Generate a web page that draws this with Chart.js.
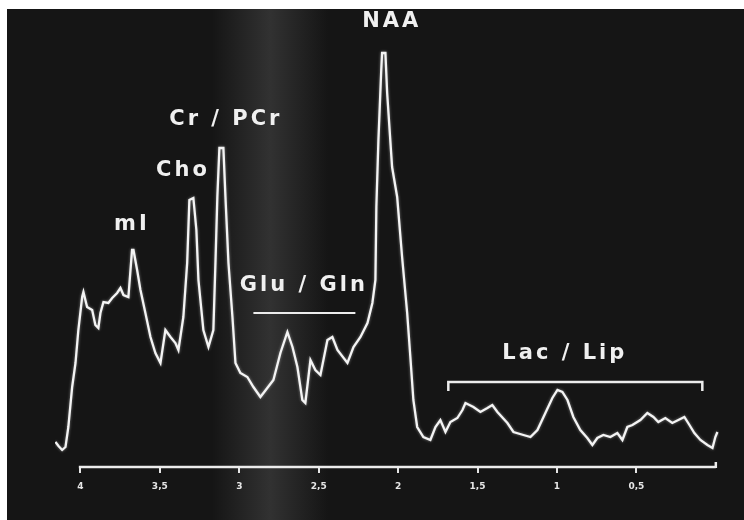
<!DOCTYPE html>
<html>
<head>
<meta charset="utf-8">
<title>MR spectrum</title>
<script src="https://cdn.jsdelivr.net/npm/chart.js@4.4.1/dist/chart.umd.min.js"></script>
<style>
    html, body { margin: 0; padding: 0; background: #ffffff; }
    canvas { display: block; }
</style>
</head>
<body>
<canvas id="spectrum" width="744" height="520"></canvas>
<script>
// chemical shift (ppm) and signal
const ppm = [
    4.157, 4.138, 4.115, 4.094, 4.076, 4.052, 4.031, 4.013, 3.989, 3.981,
    3.958, 3.926, 3.906, 3.887, 3.874, 3.855, 3.824, 3.800, 3.769, 3.748,
    3.729, 3.698, 3.675, 3.666, 3.643, 3.622, 3.591, 3.559, 3.528, 3.496,
    3.465, 3.433, 3.402, 3.383, 3.352, 3.328, 3.314, 3.289, 3.270, 3.257,
    3.226, 3.194, 3.163, 3.150, 3.138, 3.125, 3.100, 3.087, 3.068, 3.043,
    3.024, 2.993, 2.949, 2.911, 2.867, 2.785, 2.741, 2.697, 2.665, 2.634,
    2.603, 2.584, 2.552, 2.521, 2.489, 2.445, 2.414, 2.382, 2.319, 2.281,
    2.237, 2.193, 2.162, 2.143, 2.137, 2.124, 2.107, 2.101, 2.080, 2.069,
    2.038, 2.006, 1.975, 1.943, 1.923, 1.904, 1.880, 1.841, 1.797, 1.765,
    1.734, 1.702, 1.671, 1.627, 1.595, 1.576, 1.526, 1.482, 1.438, 1.407,
    1.375, 1.312, 1.274, 1.211, 1.167, 1.123, 1.073, 1.029, 0.997, 0.966,
    0.934, 0.897, 0.853, 0.809, 0.777, 0.746, 0.708, 0.664, 0.620, 0.588,
    0.557, 0.525, 0.475, 0.431, 0.393, 0.362, 0.318, 0.274, 0.236, 0.198,
    0.166, 0.135, 0.097, 0.053, 0.021, 0.003, -0.010
];
const intensity = [
    25, 21, 17, 20, 40, 80, 104, 137, 170, 175,
    160, 157, 142, 139, 154, 165, 164, 169, 174, 179,
    172, 170, 217, 217, 197, 177, 154, 130, 114, 104,
    137, 130, 124, 117, 150, 204, 267, 269, 237, 187,
    137, 120, 137, 204, 270, 319, 319, 270, 204, 150,
    104, 94, 90, 80, 70, 87, 114, 135, 120, 100,
    67, 64, 107, 97, 92, 127, 130, 117, 104, 120,
    130, 144, 164, 187, 260, 327, 394, 414, 414, 374,
    300, 270, 210, 154, 110, 67, 40, 30, 27, 40,
    47, 35, 45, 49, 57, 64, 60, 55, 59, 62,
    55, 44, 35, 32, 30, 37, 54, 69, 77, 75,
    67, 50, 37, 29, 22, 29, 32, 30, 34, 27,
    40, 42, 47, 54, 50, 45, 49, 44, 47, 50,
    42, 34, 27, 22, 19, 30, 35
];

const tickValues = [4, 3.5, 3, 2.5, 2, 1.5, 1, 0.5];
const tickLabels = ['4', '3,5', '3', '2,5', '2', '1,5', '1', '0,5'];
const axisSpan = [4.01, 0];

// metabolite labels, anchored at (ppm, level)
const peakNames = ['mI', 'Cho', 'Cr / PCr', 'Glu / Gln', 'NAA', 'Lac / Lip'];
const peakLabelPpm = [3.685, 3.364, 3.094, 2.603, 2.049, 0.960];
const peakLabelLevel = [242, 296, 347, 181, 445, 113];

// range brackets under the Glu/Gln and Lac/Lip labels
const glxRange = [2.911, 2.269];
const glxLevel = 154;
const lacRange = [1.684, 0.085];
const lacLevel = 85;

const backdrop = {
    id: 'backdrop',
    beforeDraw(chart) {
        const ctx = chart.ctx;
        ctx.save();
        ctx.fillStyle = '#ffffff';
        ctx.fillRect(0, 0, chart.width, chart.height);
        ctx.fillStyle = '#151515';
        ctx.fillRect(7, 9, chart.width - 7, chart.height - 9);
        // the lighter scan band behind Glu/Gln
        const band = ctx.createLinearGradient(212, 0, 328, 0);
        band.addColorStop(0, 'rgba(110,110,110,0)');
        band.addColorStop(0.5, 'rgba(110,110,110,0.32)');
        band.addColorStop(1, 'rgba(110,110,110,0)');
        ctx.fillStyle = band;
        ctx.fillRect(212, 9, 116, chart.height - 9);
        ctx.restore();
    },
    beforeDatasetDraw(chart) {
        chart.ctx.save();
        chart.ctx.shadowColor = 'rgba(255,255,255,0.45)';
        chart.ctx.shadowBlur = 3;
    },
    afterDatasetDraw(chart) {
        chart.ctx.restore();
    }
};

const annotations = {
    id: 'annotations',
    afterDatasetsDraw(chart) {
        const {ctx, chartArea} = chart;
        const x = chart.scales.x;
        const y = chart.scales.y;
        ctx.save();
        ctx.strokeStyle = '#ececec';
        ctx.lineCap = 'butt';

        // axis line with a small hook on its right end
        const axisY = chartArea.bottom;
        const right = x.getPixelForValue(axisSpan[1]);
        ctx.lineWidth = 2.5;
        ctx.beginPath();
        ctx.moveTo(x.getPixelForValue(axisSpan[0]), axisY);
        ctx.lineTo(right, axisY);
        ctx.moveTo(right, axisY + 1);
        ctx.lineTo(right, axisY - 5);
        ctx.stroke();

        // Glu/Gln underline
        ctx.lineWidth = 2;
        ctx.beginPath();
        ctx.moveTo(x.getPixelForValue(glxRange[0]), y.getPixelForValue(glxLevel));
        ctx.lineTo(x.getPixelForValue(glxRange[1]), y.getPixelForValue(glxLevel));
        ctx.stroke();

        // Lac/Lip bracket
        const ly = y.getPixelForValue(lacLevel);
        const lx0 = x.getPixelForValue(lacRange[0]);
        const lx1 = x.getPixelForValue(lacRange[1]);
        ctx.lineWidth = 2.5;
        ctx.beginPath();
        ctx.moveTo(lx0, ly + 9);
        ctx.lineTo(lx0, ly);
        ctx.lineTo(lx1, ly);
        ctx.lineTo(lx1, ly + 9);
        ctx.stroke();

        ctx.fillStyle = '#f0f0f0';
        ctx.font = 'bold 21px "DejaVu Sans", sans-serif';
        ctx.letterSpacing = '3px';
        ctx.textAlign = 'center';
        ctx.textBaseline = 'middle';
        peakNames.forEach((name, i) => {
            ctx.fillText(name, x.getPixelForValue(peakLabelPpm[i]) + 1.5, y.getPixelForValue(peakLabelLevel[i]));
        });
        ctx.restore();
    }
};

new Chart(document.getElementById('spectrum').getContext('2d'), {
    type: 'line',
    data: {
        datasets: [{
            data: ppm.map((v, i) => ({x: v, y: intensity[i]})),
            borderColor: '#f4f4f4',
            borderWidth: 2.3,
            pointRadius: 0,
            tension: 0,
            fill: false,
        }]
    },
    options: {
        responsive: false,
        animation: false,
        layout: { padding: { left: 55, right: 25, top: 17, bottom: 0 } },
        plugins: {
            legend: { display: false },
            tooltip: { enabled: false }
        },
        scales: {
            x: {
                type: 'linear',
                reverse: true,
                min: -0.02,
                max: 4.16,
                border: { display: false },
                grid: { drawOnChartArea: false, color: '#e6e6e6', lineWidth: 2, tickLength: 6 },
                afterBuildTicks: scale => { scale.ticks = tickValues.map(v => ({value: v})); },
                afterFit: scale => { scale.height = 53; },
                ticks: {
                    color: '#e6e6e6',
                    font: { family: '"DejaVu Sans"', size: 9, weight: 'bold' },
                    padding: 8,
                    maxRotation: 0,
                    autoSkip: false,
                    callback: (value, index) => tickLabels[index]
                }
            },
            y: { display: false, min: 0, max: 450 }
        }
    },
    plugins: [backdrop, annotations]
});
</script>
</body>
</html>
